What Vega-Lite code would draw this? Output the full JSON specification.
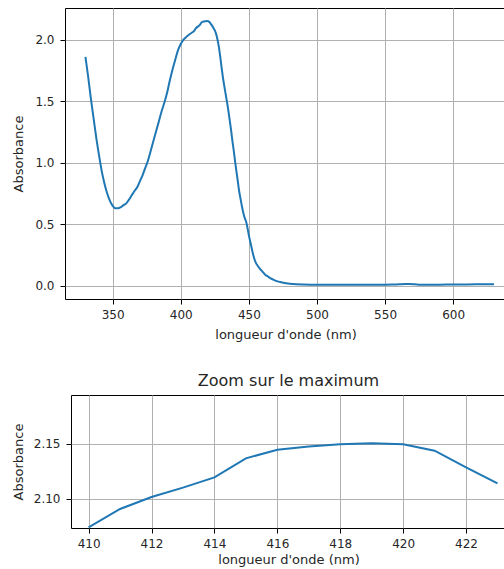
{
  "$schema": "https://vega.github.io/schema/vega-lite/v6.json",
  "padding": {"left": 11.5, "top": 7, "right": 0, "bottom": 0},
  "spacing": 30,
  "config": {
    "font": "DejaVu Sans",
    "view": {"stroke": "#000000", "strokeWidth": 1},
    "axis": {
      "domain": false,
      "grid": true,
      "gridColor": "#b0b0b0",
      "gridWidth": 1,
      "tickColor": "#000000",
      "tickSize": 5,
      "tickWidth": 1,
      "labelPadding": 5,
      "labelFontSize": 12,
      "labelColor": "#262626",
      "titleFontSize": 13,
      "titleFontWeight": "normal",
      "titleColor": "#262626"
    },
    "axisY": {"labelPadding": 6},
    "title": {"fontSize": 16, "fontWeight": "normal", "color": "#262626", "offset": 6}
  },
  "datasets": {
    "vide": [],
    "spectre": [
      {"lambda": 330, "A": 1.86}, {"lambda": 332, "A": 1.70}, {"lambda": 334, "A": 1.52}, {"lambda": 336, "A": 1.36},
      {"lambda": 338, "A": 1.20}, {"lambda": 340, "A": 1.06}, {"lambda": 342, "A": 0.93}, {"lambda": 344, "A": 0.83},
      {"lambda": 346, "A": 0.75}, {"lambda": 348, "A": 0.69}, {"lambda": 350, "A": 0.65}, {"lambda": 352, "A": 0.63},
      {"lambda": 354, "A": 0.63}, {"lambda": 356, "A": 0.64}, {"lambda": 358, "A": 0.655}, {"lambda": 360, "A": 0.67},
      {"lambda": 362, "A": 0.70}, {"lambda": 364, "A": 0.735}, {"lambda": 366, "A": 0.77}, {"lambda": 368, "A": 0.80},
      {"lambda": 370, "A": 0.85}, {"lambda": 372, "A": 0.90}, {"lambda": 374, "A": 0.96}, {"lambda": 376, "A": 1.02},
      {"lambda": 378, "A": 1.10}, {"lambda": 380, "A": 1.18}, {"lambda": 382, "A": 1.26}, {"lambda": 384, "A": 1.34},
      {"lambda": 386, "A": 1.42}, {"lambda": 388, "A": 1.49}, {"lambda": 390, "A": 1.57}, {"lambda": 392, "A": 1.67},
      {"lambda": 394, "A": 1.76}, {"lambda": 396, "A": 1.84}, {"lambda": 398, "A": 1.915}, {"lambda": 400, "A": 1.965},
      {"lambda": 402, "A": 2.0}, {"lambda": 404, "A": 2.022}, {"lambda": 406, "A": 2.04}, {"lambda": 408, "A": 2.056},
      {"lambda": 410, "A": 2.074}, {"lambda": 411, "A": 2.091}, {"lambda": 412, "A": 2.102}, {"lambda": 413, "A": 2.110},
      {"lambda": 414, "A": 2.120}, {"lambda": 415, "A": 2.137}, {"lambda": 416, "A": 2.145}, {"lambda": 417, "A": 2.148},
      {"lambda": 418, "A": 2.150}, {"lambda": 419, "A": 2.151}, {"lambda": 420, "A": 2.150}, {"lambda": 421, "A": 2.144},
      {"lambda": 422, "A": 2.129}, {"lambda": 423, "A": 2.114}, {"lambda": 424, "A": 2.095}, {"lambda": 425, "A": 2.075},
      {"lambda": 426, "A": 2.045}, {"lambda": 427, "A": 2.0}, {"lambda": 428, "A": 1.94}, {"lambda": 429, "A": 1.86},
      {"lambda": 430, "A": 1.77}, {"lambda": 431, "A": 1.69}, {"lambda": 432, "A": 1.62}, {"lambda": 433, "A": 1.555},
      {"lambda": 434, "A": 1.49}, {"lambda": 435, "A": 1.42}, {"lambda": 436, "A": 1.34}, {"lambda": 437, "A": 1.26},
      {"lambda": 438, "A": 1.17}, {"lambda": 439, "A": 1.09}, {"lambda": 440, "A": 1.00}, {"lambda": 441, "A": 0.92},
      {"lambda": 442, "A": 0.84}, {"lambda": 443, "A": 0.76}, {"lambda": 444, "A": 0.70}, {"lambda": 445, "A": 0.64},
      {"lambda": 446, "A": 0.59}, {"lambda": 447, "A": 0.55}, {"lambda": 448, "A": 0.52}, {"lambda": 449, "A": 0.47},
      {"lambda": 450, "A": 0.41}, {"lambda": 451, "A": 0.36}, {"lambda": 452, "A": 0.31}, {"lambda": 453, "A": 0.26},
      {"lambda": 454, "A": 0.22}, {"lambda": 455, "A": 0.19}, {"lambda": 456, "A": 0.17}, {"lambda": 458, "A": 0.14},
      {"lambda": 460, "A": 0.115}, {"lambda": 462, "A": 0.09}, {"lambda": 464, "A": 0.075}, {"lambda": 466, "A": 0.06},
      {"lambda": 468, "A": 0.05}, {"lambda": 470, "A": 0.04}, {"lambda": 473, "A": 0.03}, {"lambda": 476, "A": 0.022},
      {"lambda": 480, "A": 0.016}, {"lambda": 485, "A": 0.012}, {"lambda": 490, "A": 0.01}, {"lambda": 500, "A": 0.008},
      {"lambda": 510, "A": 0.008}, {"lambda": 520, "A": 0.008}, {"lambda": 530, "A": 0.009}, {"lambda": 540, "A": 0.009},
      {"lambda": 550, "A": 0.009}, {"lambda": 555, "A": 0.01}, {"lambda": 560, "A": 0.012}, {"lambda": 565, "A": 0.014},
      {"lambda": 568, "A": 0.015}, {"lambda": 572, "A": 0.012}, {"lambda": 576, "A": 0.009}, {"lambda": 580, "A": 0.008},
      {"lambda": 585, "A": 0.008}, {"lambda": 590, "A": 0.009}, {"lambda": 600, "A": 0.01}, {"lambda": 610, "A": 0.011},
      {"lambda": 620, "A": 0.012}, {"lambda": 630, "A": 0.012}
    ],
    "zoom": [
      {"lambda": 410, "A": 2.0742}, {"lambda": 411, "A": 2.0909}, {"lambda": 412, "A": 2.1018}, {"lambda": 413, "A": 2.1103},
      {"lambda": 414, "A": 2.1196}, {"lambda": 415, "A": 2.1369}, {"lambda": 416, "A": 2.1448}, {"lambda": 417, "A": 2.1476},
      {"lambda": 418, "A": 2.1497}, {"lambda": 419, "A": 2.1506}, {"lambda": 420, "A": 2.1497}, {"lambda": 421, "A": 2.1439},
      {"lambda": 422, "A": 2.1287}, {"lambda": 423, "A": 2.1142}
    ]
  },
  "vconcat": [
    {
      "spacing": -22.5,
      "hconcat": [
        {"width": 0, "height": 1, "view": {"stroke": null}, "data": {"name": "vide"}, "mark": "point"},
        {
          "width": 441,
          "height": 291,
          "data": {"name": "spectre"},
          "mark": {"type": "line", "color": "#1f77b4", "strokeWidth": 2, "interpolate": "monotone", "clip": true},
          "encoding": {
            "x": {
              "field": "lambda", "type": "quantitative",
              "scale": {"domain": [315, 638.8], "nice": false, "zero": false},
              "axis": {"title": "longueur d'onde (nm)", "values": [350, 400, 450, 500, 550, 600], "format": "d", "titlePadding": 8}
            },
            "y": {
              "field": "A", "type": "quantitative",
              "scale": {"domain": [-0.1075, 2.2575], "nice": false, "zero": false},
              "axis": {"title": "Absorbance", "values": [0, 0.5, 1, 1.5, 2], "format": ".1f", "titlePadding": 9.6}
            }
          }
        }
      ]
    },
    {
      "spacing": -22.5,
      "hconcat": [
        {"width": 0, "height": 1, "view": {"stroke": null}, "data": {"name": "vide"}, "mark": "point"},
        {
          "width": 435,
          "height": 133,
          "title": "Zoom sur le maximum",
          "data": {"name": "zoom"},
          "mark": {"type": "line", "color": "#1f77b4", "strokeWidth": 2, "clip": true},
          "encoding": {
            "x": {
              "field": "lambda", "type": "quantitative",
              "scale": {"domain": [409.44, 423.27], "nice": false, "zero": false},
              "axis": {"title": "longueur d'onde (nm)", "values": [410, 412, 414, 416, 418, 420, 422], "format": "d", "titlePadding": 4}
            },
            "y": {
              "field": "A", "type": "quantitative",
              "scale": {"domain": [2.0736, 2.1945], "nice": false, "zero": false},
              "axis": {"title": "Absorbance", "values": [2.10, 2.15], "format": ".2f", "titlePadding": 7.8}
            }
          }
        }
      ]
    }
  ]
}
